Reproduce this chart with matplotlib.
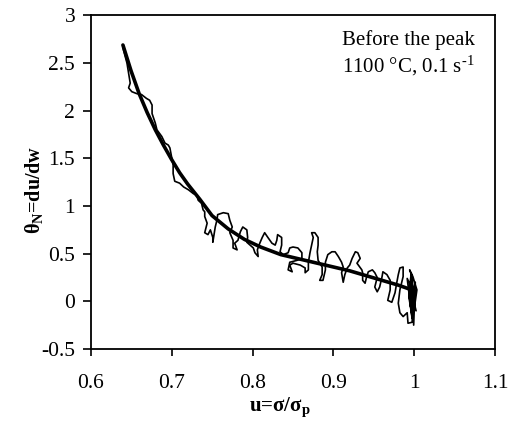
import numpy as np
import matplotlib
matplotlib.use("Agg")
import matplotlib.pyplot as plt

plt.rcParams['font.family'] = ['Liberation Serif', 'DejaVu Serif']
plt.rcParams['mathtext.fontset'] = 'custom'
plt.rcParams['mathtext.rm'] = 'Liberation Serif'
plt.rcParams['mathtext.it'] = 'Liberation Serif:italic'
plt.rcParams['mathtext.bf'] = 'Liberation Serif:bold'

# smooth fitted curve theta_N(u)
fit_u = [0.640, 0.650, 0.660, 0.670, 0.680, 0.690, 0.700, 0.710, 0.720, 0.735,
         0.750, 0.770, 0.790, 0.810, 0.835, 0.860, 0.880, 0.900, 0.920, 0.940,
         0.960, 0.980, 1.000]
fit_theta = [2.69, 2.42, 2.18, 1.98, 1.80, 1.64, 1.49, 1.35, 1.23, 1.07,
             0.90, 0.76, 0.65, 0.57, 0.49, 0.44, 0.40, 0.36, 0.32, 0.27,
             0.22, 0.17, 0.11]

# measured (noisy) derivative, traced along the record
exp_u = [0.640, 0.645, 0.649, 0.647, 0.651, 0.657, 0.663, 0.669, 0.673, 0.676,
         0.676, 0.680, 0.682, 0.688, 0.692, 0.696, 0.698, 0.700, 0.702, 0.702,
         0.704, 0.710, 0.715, 0.721, 0.727, 0.731, 0.733, 0.737, 0.739, 0.741,
         0.741, 0.744, 0.741, 0.745, 0.748, 0.751, 0.751, 0.754, 0.756, 0.757,
         0.764, 0.770, 0.772, 0.775, 0.772, 0.776, 0.776, 0.781, 0.778, 0.782,
         0.785, 0.788, 0.793, 0.794, 0.793, 0.797, 0.801, 0.803, 0.807, 0.806,
         0.809, 0.812, 0.815, 0.819, 0.824, 0.828, 0.830, 0.831, 0.836, 0.836,
         0.834, 0.838, 0.844, 0.846, 0.850, 0.856, 0.861, 0.861, 0.855, 0.846,
         0.844, 0.849, 0.846, 0.850, 0.859, 0.865, 0.865, 0.869, 0.869, 0.871,
         0.873, 0.875, 0.873, 0.877, 0.881, 0.881, 0.880, 0.881, 0.886, 0.886,
         0.883, 0.887, 0.890, 0.890, 0.893, 0.898, 0.902, 0.906, 0.910, 0.912,
         0.910, 0.912, 0.914, 0.917, 0.920, 0.923, 0.927, 0.930, 0.933, 0.929,
         0.935, 0.936, 0.936, 0.939, 0.941, 0.943, 0.948, 0.951, 0.954, 0.951,
         0.954, 0.957, 0.960, 0.961, 0.966, 0.970, 0.970, 0.967, 0.972, 0.976,
         0.978, 0.980, 0.982, 0.986, 0.986, 0.982, 0.980, 0.982, 0.986, 0.991,
         0.992, 0.997, 0.998, 1.000, 0.998, 0.997, 0.994, 0.998, 1.003, 1.000,
         0.997, 0.993, 0.996, 0.999, 1.001, 0.995, 0.999, 0.991, 0.997, 0.994,
         1.002, 0.996, 1.000]
exp_theta = [2.66, 2.50, 2.29, 2.24, 2.20, 2.18, 2.17, 2.13, 2.11, 2.06,
             1.97, 1.87, 1.80, 1.73, 1.66, 1.64, 1.61, 1.52, 1.43, 1.34,
             1.26, 1.24, 1.20, 1.17, 1.13, 1.12, 1.06, 1.03, 0.96, 0.94,
             0.89, 0.82, 0.72, 0.70, 0.75, 0.67, 0.62, 0.78, 0.85, 0.91,
             0.93, 0.92, 0.85, 0.78, 0.72, 0.64, 0.56, 0.54, 0.61, 0.64,
             0.73, 0.78, 0.75, 0.67, 0.62, 0.59, 0.56, 0.51, 0.47, 0.54,
             0.61, 0.67, 0.72, 0.67, 0.61, 0.59, 0.64, 0.70, 0.67, 0.59,
             0.52, 0.49, 0.51, 0.56, 0.57, 0.56, 0.51, 0.45, 0.43, 0.41,
             0.33, 0.31, 0.38, 0.40, 0.38, 0.35, 0.30, 0.33, 0.41, 0.51,
             0.59, 0.67, 0.72, 0.72, 0.67, 0.59, 0.52, 0.43, 0.36, 0.28,
             0.22, 0.22, 0.33, 0.41, 0.49, 0.52, 0.52, 0.47, 0.41, 0.36,
             0.30, 0.20, 0.28, 0.35, 0.38, 0.45, 0.52, 0.51, 0.45, 0.40,
             0.33, 0.30, 0.22, 0.19, 0.26, 0.31, 0.33, 0.30, 0.25, 0.15,
             0.10, 0.15, 0.26, 0.31, 0.28, 0.22, 0.12, 0.01, -0.01, 0.09,
             0.19, 0.28, 0.35, 0.36, 0.26, 0.12, -0.02, -0.12, -0.16, -0.12,
             -0.23, -0.22, -0.12, 0.01, 0.15, 0.26, 0.33, 0.26, 0.12, -0.06,
             -0.16, 0.05, 0.30, -0.25, 0.20, -0.05, 0.10, 0.24, -0.18, 0.18,
             -0.10, 0.02, -0.02]

x_ticks = [0.6, 0.7, 0.8, 0.9, 1.0, 1.1]
x_ticklabels = ['0.6', '0.7', '0.8', '0.9', '1', '1.1']
y_ticks = [-0.5, 0, 0.5, 1, 1.5, 2, 2.5, 3]
y_ticklabels = ['-0.5', '0', '0.5', '1', '1.5', '2', '2.5', '3']

fig = plt.figure(figsize=(5.1, 4.24), dpi=100)
ax = fig.add_axes([0.1775, 0.177, 0.794, 0.7865])

ax.plot(exp_u, exp_theta, color='black', linewidth=1.2, solid_joinstyle='round')
ax.plot(fit_u, fit_theta, color='black', linewidth=2.6, solid_capstyle='round')

ax.set_xlim(0.6, 1.1)
ax.set_ylim(-0.5, 3)
ax.set_xticks(x_ticks)
ax.set_xticklabels(x_ticklabels)
ax.set_yticks(y_ticks)
ax.set_yticklabels(y_ticklabels)
ax.tick_params(axis='y', direction='out', length=6, width=1.2, labelsize=15.5, pad=5)
ax.tick_params(axis='x', direction='out', length=5, width=1.2, labelsize=15.5, pad=13)
for s in ax.spines.values():
    s.set_linewidth(1.3)

ax.set_xlabel(r'u=σ/σ$_{\mathbf{p}}$', fontsize=15, fontweight='bold', va='center')
ax.xaxis.set_label_coords(0.468, -0.176)
ax.set_ylabel(r'θ$_{\mathbf{N}}$=du/dw', fontsize=14.5, fontweight='bold',
              va='center', ha='center')
ax.yaxis.set_label_coords(-0.14, 0.477)

ax.text(0.621, 0.927, 'Before the peak', transform=ax.transAxes,
        fontsize=15, va='center', ha='left')
ax.text(0.621, 0.849, '1100 °C, 0.1 s$^{\\mathrm{\u20101}}$', transform=ax.transAxes,
        fontsize=15, va='center', ha='left')

fig.savefig('out.png', dpi=100)
